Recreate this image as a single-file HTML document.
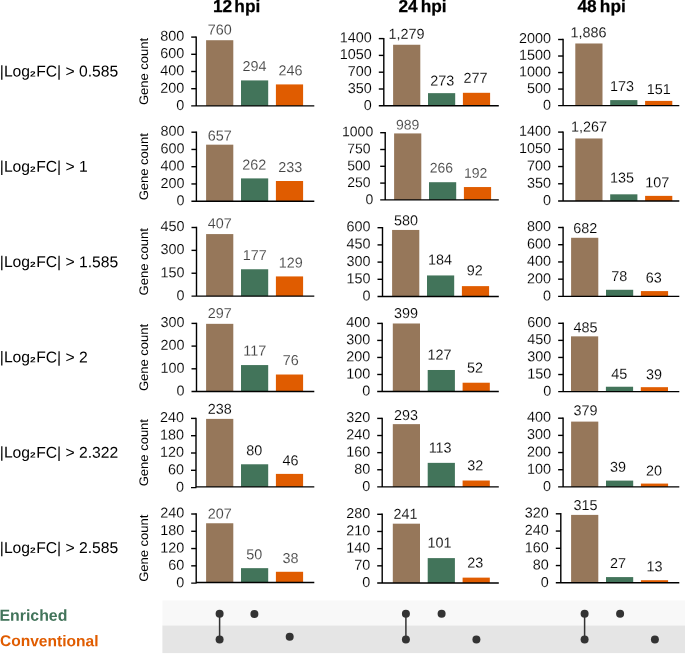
<!DOCTYPE html>
<html><head><meta charset="utf-8"><title>Gene counts</title>
<style>html,body{margin:0;padding:0;background:#fff;}svg{display:block;will-change:transform;}text{font-family:"Liberation Sans", sans-serif;}.tk{font-size:14.4px;fill:#000;text-anchor:end;stroke:#fff;stroke-width:0.12px;}.dl{font-size:14.4px;text-anchor:middle;stroke:#fff;stroke-width:0.12px;}.gc{font-size:12.4px;fill:#000;text-anchor:middle;}.hd{font-size:17.3px;font-weight:bold;fill:#000;word-spacing:-2.6px;stroke:#000;stroke-width:0.25px;}.rl{font-size:15.7px;fill:#000;}.lg{font-size:15.7px;font-weight:bold;}</style></head><body>
<svg width="685" height="654" viewBox="0 0 685 654">
<rect x="0" y="0" width="685" height="654" fill="#ffffff"/>
<text class="hd" transform="translate(212.90,12.00) rotate(0.05)">12 hpi</text>
<text class="hd" transform="translate(398.40,12.00) rotate(0.05)" style="word-spacing:-1.7px">24 hpi</text>
<text class="hd" transform="translate(577.50,12.00) rotate(0.05)" style="word-spacing:-1.7px">48 hpi</text>
<rect x="162.4" y="600.5" width="522.6" height="25" fill="#F8F8F8"/>
<rect x="162.4" y="625.5" width="522.6" height="27.6" fill="#E5E5E5"/>
<g id="c00">
<rect x="206.10" y="40.22" width="27.20" height="65.68" fill="#96775A"/>
<text class="dl" transform="translate(219.70,34.50) rotate(0.05)" fill="#424242">760</text>
<rect x="241.00" y="80.41" width="27.20" height="25.49" fill="#42745A"/>
<text class="dl" transform="translate(254.60,70.90) rotate(0.05)" fill="#424242">294</text>
<rect x="275.90" y="84.42" width="27.20" height="21.48" fill="#E05C00"/>
<text class="dl" transform="translate(290.40,75.30) rotate(0.05)" fill="#424242">246</text>
<path d="M196.20 36.40V106.60M196.20 105.90H314.30M191.20 105.90H196.70" stroke="#000" stroke-width="1.4" fill="none"/>
<text class="tk" transform="translate(184.20,110.00) rotate(0.05)">0</text>
<path d="M191.20 88.70H196.20" stroke="#000" stroke-width="1.4" fill="none"/>
<text class="tk" transform="translate(184.20,92.67) rotate(0.05)">200</text>
<path d="M191.20 71.50H196.20" stroke="#000" stroke-width="1.4" fill="none"/>
<text class="tk" transform="translate(184.20,75.35) rotate(0.05)">400</text>
<path d="M191.20 54.30H196.20" stroke="#000" stroke-width="1.4" fill="none"/>
<text class="tk" transform="translate(184.20,58.02) rotate(0.05)">600</text>
<path d="M191.20 37.10H196.20" stroke="#000" stroke-width="1.4" fill="none"/>
<text class="tk" transform="translate(184.20,40.70) rotate(0.05)">800</text>
<text class="gc" transform="translate(148.0,71.50) rotate(-89.95)" textLength="67.2" lengthAdjust="spacingAndGlyphs">Gene count</text>
</g>
<g id="c01">
<rect x="393.10" y="44.75" width="27.20" height="61.05" fill="#96775A"/>
<text class="dl" transform="translate(406.50,38.70) rotate(0.05)" fill="#000000">1,279</text>
<rect x="428.00" y="93.15" width="27.20" height="12.65" fill="#42745A"/>
<text class="dl" transform="translate(442.30,85.60) rotate(0.05)" fill="#000000">273</text>
<rect x="462.90" y="92.80" width="27.20" height="13.00" fill="#E05C00"/>
<text class="dl" transform="translate(475.50,82.70) rotate(0.05)" fill="#000000">277</text>
<path d="M383.80 37.90V106.50M383.80 105.80H498.80M378.80 105.80H384.30" stroke="#000" stroke-width="1.4" fill="none"/>
<text class="tk" transform="translate(371.80,109.90) rotate(0.05)">0</text>
<path d="M378.80 89.00H383.80" stroke="#000" stroke-width="1.4" fill="none"/>
<text class="tk" transform="translate(371.80,92.97) rotate(0.05)">350</text>
<path d="M378.80 72.20H383.80" stroke="#000" stroke-width="1.4" fill="none"/>
<text class="tk" transform="translate(371.80,76.05) rotate(0.05)">700</text>
<path d="M378.80 55.40H383.80" stroke="#000" stroke-width="1.4" fill="none"/>
<text class="tk" transform="translate(371.80,59.13) rotate(0.05)">1050</text>
<path d="M378.80 38.60H383.80" stroke="#000" stroke-width="1.4" fill="none"/>
<text class="tk" transform="translate(371.80,42.20) rotate(0.05)">1400</text>
</g>
<g id="c02">
<rect x="575.30" y="43.48" width="27.20" height="62.12" fill="#96775A"/>
<text class="dl" transform="translate(588.50,37.20) rotate(0.05)" fill="#000000">1,886</text>
<rect x="610.20" y="100.09" width="27.20" height="5.51" fill="#42745A"/>
<text class="dl" transform="translate(622.10,90.90) rotate(0.05)" fill="#000000">173</text>
<rect x="645.10" y="100.90" width="27.20" height="4.70" fill="#E05C00"/>
<text class="dl" transform="translate(658.80,94.10) rotate(0.05)" fill="#000000">151</text>
<path d="M563.10 38.80V106.30M563.10 105.60H679.30M558.10 105.60H563.60" stroke="#000" stroke-width="1.4" fill="none"/>
<text class="tk" transform="translate(551.10,109.70) rotate(0.05)">0</text>
<path d="M558.10 89.07H563.10" stroke="#000" stroke-width="1.4" fill="none"/>
<text class="tk" transform="translate(551.10,93.05) rotate(0.05)">500</text>
<path d="M558.10 72.55H563.10" stroke="#000" stroke-width="1.4" fill="none"/>
<text class="tk" transform="translate(551.10,76.40) rotate(0.05)">1000</text>
<path d="M558.10 56.02H563.10" stroke="#000" stroke-width="1.4" fill="none"/>
<text class="tk" transform="translate(551.10,59.75) rotate(0.05)">1500</text>
<path d="M558.10 39.50H563.10" stroke="#000" stroke-width="1.4" fill="none"/>
<text class="tk" transform="translate(551.10,43.10) rotate(0.05)">2000</text>
</g>
<g id="c10">
<rect x="206.10" y="144.67" width="27.20" height="56.53" fill="#96775A"/>
<text class="dl" transform="translate(219.70,140.50) rotate(0.05)" fill="#424242">657</text>
<rect x="241.00" y="178.40" width="27.20" height="22.80" fill="#42745A"/>
<text class="dl" transform="translate(254.30,169.40) rotate(0.05)" fill="#424242">262</text>
<rect x="275.90" y="181.00" width="27.20" height="20.20" fill="#E05C00"/>
<text class="dl" transform="translate(290.30,172.00) rotate(0.05)" fill="#424242">233</text>
<path d="M196.40 131.50V201.90M196.40 201.20H314.30M191.40 201.20H196.90" stroke="#000" stroke-width="1.4" fill="none"/>
<text class="tk" transform="translate(184.40,205.30) rotate(0.05)">0</text>
<path d="M191.40 183.95H196.40" stroke="#000" stroke-width="1.4" fill="none"/>
<text class="tk" transform="translate(184.40,187.92) rotate(0.05)">200</text>
<path d="M191.40 166.70H196.40" stroke="#000" stroke-width="1.4" fill="none"/>
<text class="tk" transform="translate(184.40,170.55) rotate(0.05)">400</text>
<path d="M191.40 149.45H196.40" stroke="#000" stroke-width="1.4" fill="none"/>
<text class="tk" transform="translate(184.40,153.17) rotate(0.05)">600</text>
<path d="M191.40 132.20H196.40" stroke="#000" stroke-width="1.4" fill="none"/>
<text class="tk" transform="translate(184.40,135.80) rotate(0.05)">800</text>
<text class="gc" transform="translate(148.0,166.70) rotate(-89.95)" textLength="67.2" lengthAdjust="spacingAndGlyphs">Gene count</text>
</g>
<g id="c11">
<rect x="394.10" y="133.42" width="27.20" height="66.48" fill="#96775A"/>
<text class="dl" transform="translate(407.60,129.50) rotate(0.05)" fill="#424242" style="font-size:14.0px">989</text>
<rect x="429.00" y="182.21" width="27.20" height="17.69" fill="#42745A"/>
<text class="dl" transform="translate(441.30,172.60) rotate(0.05)" fill="#424242" style="font-size:14.0px">266</text>
<rect x="463.90" y="187.05" width="27.20" height="12.85" fill="#E05C00"/>
<text class="dl" transform="translate(475.70,177.70) rotate(0.05)" fill="#424242" style="font-size:14.0px">192</text>
<path d="M385.20 132.00V200.60M385.20 199.90H498.80M380.20 199.90H385.70" stroke="#000" stroke-width="1.4" fill="none"/>
<text class="tk" transform="translate(373.20,204.00) rotate(0.05)" style="font-size:14.0px">0</text>
<path d="M380.20 183.10H385.20" stroke="#000" stroke-width="1.4" fill="none"/>
<text class="tk" transform="translate(370.50,187.07) rotate(0.05)" style="font-size:14.0px">250</text>
<path d="M380.20 166.30H385.20" stroke="#000" stroke-width="1.4" fill="none"/>
<text class="tk" transform="translate(370.50,170.15) rotate(0.05)" style="font-size:14.0px">500</text>
<path d="M380.20 149.50H385.20" stroke="#000" stroke-width="1.4" fill="none"/>
<text class="tk" transform="translate(370.50,153.22) rotate(0.05)" style="font-size:14.0px">750</text>
<path d="M380.20 132.70H385.20" stroke="#000" stroke-width="1.4" fill="none"/>
<text class="tk" transform="translate(373.20,136.30) rotate(0.05)" style="font-size:14.0px">1000</text>
</g>
<g id="c12">
<rect x="575.30" y="138.47" width="27.20" height="62.53" fill="#96775A"/>
<text class="dl" transform="translate(589.00,131.40) rotate(0.05)" fill="#000000">1,267</text>
<rect x="610.20" y="194.33" width="27.20" height="6.67" fill="#42745A"/>
<text class="dl" transform="translate(622.10,182.50) rotate(0.05)" fill="#000000">135</text>
<rect x="645.10" y="195.87" width="27.20" height="5.13" fill="#E05C00"/>
<text class="dl" transform="translate(657.30,187.20) rotate(0.05)" fill="#000000">107</text>
<path d="M563.10 131.40V201.70M563.10 201.00H679.30M558.10 201.00H563.60" stroke="#000" stroke-width="1.4" fill="none"/>
<text class="tk" transform="translate(551.10,205.10) rotate(0.05)">0</text>
<path d="M558.10 183.78H563.10" stroke="#000" stroke-width="1.4" fill="none"/>
<text class="tk" transform="translate(551.10,187.75) rotate(0.05)">350</text>
<path d="M558.10 166.55H563.10" stroke="#000" stroke-width="1.4" fill="none"/>
<text class="tk" transform="translate(551.10,170.40) rotate(0.05)">700</text>
<path d="M558.10 149.32H563.10" stroke="#000" stroke-width="1.4" fill="none"/>
<text class="tk" transform="translate(551.10,153.05) rotate(0.05)">1050</text>
<path d="M558.10 132.10H563.10" stroke="#000" stroke-width="1.4" fill="none"/>
<text class="tk" transform="translate(551.10,135.70) rotate(0.05)">1400</text>
</g>
<g id="c20">
<rect x="206.10" y="234.08" width="27.20" height="62.02" fill="#96775A"/>
<text class="dl" transform="translate(219.70,228.30) rotate(0.05)" fill="#424242">407</text>
<rect x="241.00" y="269.26" width="27.20" height="26.84" fill="#42745A"/>
<text class="dl" transform="translate(254.70,260.00) rotate(0.05)" fill="#424242">177</text>
<rect x="275.90" y="276.42" width="27.20" height="19.68" fill="#E05C00"/>
<text class="dl" transform="translate(290.80,267.60) rotate(0.05)" fill="#424242">129</text>
<path d="M196.50 226.80V296.80M196.50 296.10H314.30M191.50 296.10H197.00" stroke="#000" stroke-width="1.4" fill="none"/>
<text class="tk" transform="translate(184.50,300.20) rotate(0.05)">0</text>
<path d="M191.50 273.23H196.50" stroke="#000" stroke-width="1.4" fill="none"/>
<text class="tk" transform="translate(184.50,277.17) rotate(0.05)">150</text>
<path d="M191.50 250.37H196.50" stroke="#000" stroke-width="1.4" fill="none"/>
<text class="tk" transform="translate(184.50,254.13) rotate(0.05)">300</text>
<path d="M191.50 227.50H196.50" stroke="#000" stroke-width="1.4" fill="none"/>
<text class="tk" transform="translate(184.50,231.10) rotate(0.05)">450</text>
<text class="gc" transform="translate(148.0,261.80) rotate(-89.95)" textLength="67.2" lengthAdjust="spacingAndGlyphs">Gene count</text>
</g>
<g id="c21">
<rect x="392.10" y="229.95" width="27.20" height="66.55" fill="#96775A"/>
<text class="dl" transform="translate(406.10,225.30) rotate(0.05)" fill="#000000">580</text>
<rect x="427.00" y="275.45" width="27.20" height="21.05" fill="#42745A"/>
<text class="dl" transform="translate(440.10,264.40) rotate(0.05)" fill="#000000">184</text>
<rect x="461.90" y="286.13" width="27.20" height="10.37" fill="#E05C00"/>
<text class="dl" transform="translate(474.70,275.20) rotate(0.05)" fill="#000000">92</text>
<path d="M382.50 227.00V297.20M382.50 296.50H498.80M377.50 296.50H383.00" stroke="#000" stroke-width="1.4" fill="none"/>
<text class="tk" transform="translate(370.50,300.60) rotate(0.05)">0</text>
<path d="M377.50 279.30H382.50" stroke="#000" stroke-width="1.4" fill="none"/>
<text class="tk" transform="translate(370.50,283.28) rotate(0.05)">150</text>
<path d="M377.50 262.10H382.50" stroke="#000" stroke-width="1.4" fill="none"/>
<text class="tk" transform="translate(370.50,265.95) rotate(0.05)">300</text>
<path d="M377.50 244.90H382.50" stroke="#000" stroke-width="1.4" fill="none"/>
<text class="tk" transform="translate(370.50,248.62) rotate(0.05)">450</text>
<path d="M377.50 227.70H382.50" stroke="#000" stroke-width="1.4" fill="none"/>
<text class="tk" transform="translate(370.50,231.30) rotate(0.05)">600</text>
</g>
<g id="c22">
<rect x="571.10" y="237.78" width="27.20" height="58.62" fill="#96775A"/>
<text class="dl" transform="translate(585.20,233.00) rotate(0.05)" fill="#000000">682</text>
<rect x="606.00" y="289.79" width="27.20" height="6.61" fill="#42745A"/>
<text class="dl" transform="translate(619.30,280.90) rotate(0.05)" fill="#000000">78</text>
<rect x="640.90" y="291.09" width="27.20" height="5.31" fill="#E05C00"/>
<text class="dl" transform="translate(653.70,282.40) rotate(0.05)" fill="#000000">63</text>
<path d="M563.10 226.80V297.10M563.10 296.40H679.30M558.10 296.40H563.60" stroke="#000" stroke-width="1.4" fill="none"/>
<text class="tk" transform="translate(551.10,300.50) rotate(0.05)">0</text>
<path d="M558.10 279.17H563.10" stroke="#000" stroke-width="1.4" fill="none"/>
<text class="tk" transform="translate(551.10,283.15) rotate(0.05)">200</text>
<path d="M558.10 261.95H563.10" stroke="#000" stroke-width="1.4" fill="none"/>
<text class="tk" transform="translate(551.10,265.80) rotate(0.05)">400</text>
<path d="M558.10 244.72H563.10" stroke="#000" stroke-width="1.4" fill="none"/>
<text class="tk" transform="translate(551.10,248.45) rotate(0.05)">600</text>
<path d="M558.10 227.50H563.10" stroke="#000" stroke-width="1.4" fill="none"/>
<text class="tk" transform="translate(551.10,231.10) rotate(0.05)">800</text>
</g>
<g id="c30">
<rect x="206.10" y="323.84" width="27.20" height="67.66" fill="#96775A"/>
<text class="dl" transform="translate(219.70,318.00) rotate(0.05)" fill="#424242">297</text>
<rect x="241.00" y="365.07" width="27.20" height="26.43" fill="#42745A"/>
<text class="dl" transform="translate(254.70,355.60) rotate(0.05)" fill="#424242">117</text>
<rect x="275.90" y="374.52" width="27.20" height="16.98" fill="#E05C00"/>
<text class="dl" transform="translate(290.80,364.90) rotate(0.05)" fill="#424242">76</text>
<path d="M196.50 322.70V392.20M196.50 391.50H314.30M191.50 391.50H197.00" stroke="#000" stroke-width="1.4" fill="none"/>
<text class="tk" transform="translate(184.50,395.60) rotate(0.05)">0</text>
<path d="M191.50 368.80H196.50" stroke="#000" stroke-width="1.4" fill="none"/>
<text class="tk" transform="translate(184.50,372.73) rotate(0.05)">100</text>
<path d="M191.50 346.10H196.50" stroke="#000" stroke-width="1.4" fill="none"/>
<text class="tk" transform="translate(184.50,349.87) rotate(0.05)">200</text>
<path d="M191.50 323.40H196.50" stroke="#000" stroke-width="1.4" fill="none"/>
<text class="tk" transform="translate(184.50,327.00) rotate(0.05)">300</text>
<text class="gc" transform="translate(148.0,357.45) rotate(-89.95)" textLength="67.2" lengthAdjust="spacingAndGlyphs">Gene count</text>
</g>
<g id="c31">
<rect x="392.80" y="323.49" width="27.20" height="68.01" fill="#96775A"/>
<text class="dl" transform="translate(406.10,318.00) rotate(0.05)" fill="#000000">399</text>
<rect x="427.70" y="369.99" width="27.20" height="21.51" fill="#42745A"/>
<text class="dl" transform="translate(439.60,359.40) rotate(0.05)" fill="#000000">127</text>
<rect x="462.60" y="382.72" width="27.20" height="8.78" fill="#E05C00"/>
<text class="dl" transform="translate(475.00,372.50) rotate(0.05)" fill="#000000">52</text>
<path d="M382.20 322.70V392.20M382.20 391.50H498.80M377.20 391.50H382.70" stroke="#000" stroke-width="1.4" fill="none"/>
<text class="tk" transform="translate(370.20,395.60) rotate(0.05)">0</text>
<path d="M377.20 374.48H382.20" stroke="#000" stroke-width="1.4" fill="none"/>
<text class="tk" transform="translate(370.20,378.45) rotate(0.05)">100</text>
<path d="M377.20 357.45H382.20" stroke="#000" stroke-width="1.4" fill="none"/>
<text class="tk" transform="translate(370.20,361.30) rotate(0.05)">200</text>
<path d="M377.20 340.42H382.20" stroke="#000" stroke-width="1.4" fill="none"/>
<text class="tk" transform="translate(370.20,344.15) rotate(0.05)">300</text>
<path d="M377.20 323.40H382.20" stroke="#000" stroke-width="1.4" fill="none"/>
<text class="tk" transform="translate(370.20,327.00) rotate(0.05)">400</text>
</g>
<g id="c32">
<rect x="571.00" y="336.35" width="27.20" height="55.25" fill="#96775A"/>
<text class="dl" transform="translate(585.40,332.20) rotate(0.05)" fill="#000000">485</text>
<rect x="605.90" y="386.74" width="27.20" height="4.86" fill="#42745A"/>
<text class="dl" transform="translate(619.30,378.70) rotate(0.05)" fill="#000000">45</text>
<rect x="640.80" y="387.18" width="27.20" height="4.42" fill="#E05C00"/>
<text class="dl" transform="translate(653.90,379.30) rotate(0.05)" fill="#000000">39</text>
<path d="M563.20 322.60V392.30M563.20 391.60H679.30M558.20 391.60H563.70" stroke="#000" stroke-width="1.4" fill="none"/>
<text class="tk" transform="translate(551.20,395.70) rotate(0.05)">0</text>
<path d="M558.20 374.53H563.20" stroke="#000" stroke-width="1.4" fill="none"/>
<text class="tk" transform="translate(551.20,378.50) rotate(0.05)">150</text>
<path d="M558.20 357.45H563.20" stroke="#000" stroke-width="1.4" fill="none"/>
<text class="tk" transform="translate(551.20,361.30) rotate(0.05)">300</text>
<path d="M558.20 340.38H563.20" stroke="#000" stroke-width="1.4" fill="none"/>
<text class="tk" transform="translate(551.20,344.10) rotate(0.05)">450</text>
<path d="M558.20 323.30H563.20" stroke="#000" stroke-width="1.4" fill="none"/>
<text class="tk" transform="translate(551.20,326.90) rotate(0.05)">600</text>
</g>
<g id="c40">
<rect x="206.10" y="418.89" width="27.20" height="68.01" fill="#96775A"/>
<text class="dl" transform="translate(219.70,413.70) rotate(0.05)" fill="#000000">238</text>
<rect x="241.00" y="464.28" width="27.20" height="22.62" fill="#42745A"/>
<text class="dl" transform="translate(254.20,455.30) rotate(0.05)" fill="#000000">80</text>
<rect x="275.90" y="473.89" width="27.20" height="13.01" fill="#E05C00"/>
<text class="dl" transform="translate(290.40,465.20) rotate(0.05)" fill="#000000">46</text>
<path d="M196.00 417.70V487.60M196.00 486.90H314.30M191.00 487.60H196.50" stroke="#000" stroke-width="1.4" fill="none"/>
<text class="tk" transform="translate(184.00,491.70) rotate(0.05)">0</text>
<path d="M191.00 470.30H196.00" stroke="#000" stroke-width="1.4" fill="none"/>
<text class="tk" transform="translate(184.00,474.27) rotate(0.05)">60</text>
<path d="M191.00 453.00H196.00" stroke="#000" stroke-width="1.4" fill="none"/>
<text class="tk" transform="translate(184.00,456.85) rotate(0.05)">120</text>
<path d="M191.00 435.70H196.00" stroke="#000" stroke-width="1.4" fill="none"/>
<text class="tk" transform="translate(184.00,439.42) rotate(0.05)">180</text>
<path d="M191.00 418.40H196.00" stroke="#000" stroke-width="1.4" fill="none"/>
<text class="tk" transform="translate(184.00,422.00) rotate(0.05)">240</text>
<text class="gc" transform="translate(148.0,452.65) rotate(-89.95)" textLength="67.2" lengthAdjust="spacingAndGlyphs">Gene count</text>
</g>
<g id="c41">
<rect x="392.80" y="424.14" width="27.20" height="62.76" fill="#96775A"/>
<text class="dl" transform="translate(406.10,420.00) rotate(0.05)" fill="#000000">293</text>
<rect x="427.70" y="462.86" width="27.20" height="24.04" fill="#42745A"/>
<text class="dl" transform="translate(440.10,452.50) rotate(0.05)" fill="#000000">113</text>
<rect x="462.60" y="480.52" width="27.20" height="6.38" fill="#E05C00"/>
<text class="dl" transform="translate(475.20,470.30) rotate(0.05)" fill="#000000">32</text>
<path d="M382.20 417.70V487.60M382.20 486.90H498.80M377.20 486.90H382.70" stroke="#000" stroke-width="1.4" fill="none"/>
<text class="tk" transform="translate(370.20,491.00) rotate(0.05)">0</text>
<path d="M377.20 469.77H382.20" stroke="#000" stroke-width="1.4" fill="none"/>
<text class="tk" transform="translate(370.20,473.75) rotate(0.05)">80</text>
<path d="M377.20 452.65H382.20" stroke="#000" stroke-width="1.4" fill="none"/>
<text class="tk" transform="translate(370.20,456.50) rotate(0.05)">160</text>
<path d="M377.20 435.52H382.20" stroke="#000" stroke-width="1.4" fill="none"/>
<text class="tk" transform="translate(370.20,439.25) rotate(0.05)">240</text>
<path d="M377.20 418.40H382.20" stroke="#000" stroke-width="1.4" fill="none"/>
<text class="tk" transform="translate(370.20,422.00) rotate(0.05)">320</text>
</g>
<g id="c42">
<rect x="571.10" y="421.60" width="27.20" height="65.30" fill="#96775A"/>
<text class="dl" transform="translate(585.40,415.30) rotate(0.05)" fill="#000000">379</text>
<rect x="606.00" y="480.60" width="27.20" height="6.30" fill="#42745A"/>
<text class="dl" transform="translate(618.10,471.80) rotate(0.05)" fill="#000000">39</text>
<rect x="640.90" y="483.58" width="27.20" height="3.32" fill="#E05C00"/>
<text class="dl" transform="translate(653.90,475.60) rotate(0.05)" fill="#000000">20</text>
<path d="M563.10 417.50V487.60M563.10 486.90H679.30M558.10 486.90H563.60" stroke="#000" stroke-width="1.4" fill="none"/>
<text class="tk" transform="translate(551.10,491.00) rotate(0.05)">0</text>
<path d="M558.10 469.72H563.10" stroke="#000" stroke-width="1.4" fill="none"/>
<text class="tk" transform="translate(551.10,473.70) rotate(0.05)">100</text>
<path d="M558.10 452.55H563.10" stroke="#000" stroke-width="1.4" fill="none"/>
<text class="tk" transform="translate(551.10,456.40) rotate(0.05)">200</text>
<path d="M558.10 435.38H563.10" stroke="#000" stroke-width="1.4" fill="none"/>
<text class="tk" transform="translate(551.10,439.10) rotate(0.05)">300</text>
<path d="M558.10 418.20H563.10" stroke="#000" stroke-width="1.4" fill="none"/>
<text class="tk" transform="translate(551.10,421.80) rotate(0.05)">400</text>
</g>
<g id="c50">
<rect x="206.10" y="523.26" width="27.20" height="59.24" fill="#96775A"/>
<text class="dl" transform="translate(219.70,518.40) rotate(0.05)" fill="#424242">207</text>
<rect x="241.00" y="568.16" width="27.20" height="14.34" fill="#42745A"/>
<text class="dl" transform="translate(254.20,559.20) rotate(0.05)" fill="#424242">50</text>
<rect x="275.90" y="571.78" width="27.20" height="10.72" fill="#E05C00"/>
<text class="dl" transform="translate(290.40,563.00) rotate(0.05)" fill="#424242">38</text>
<path d="M196.20 513.30V583.20M196.20 582.50H314.30M191.20 583.10H196.70" stroke="#000" stroke-width="1.4" fill="none"/>
<text class="tk" transform="translate(184.20,587.20) rotate(0.05)">0</text>
<path d="M191.20 565.83H196.20" stroke="#000" stroke-width="1.4" fill="none"/>
<text class="tk" transform="translate(184.20,569.80) rotate(0.05)">60</text>
<path d="M191.20 548.55H196.20" stroke="#000" stroke-width="1.4" fill="none"/>
<text class="tk" transform="translate(184.20,552.40) rotate(0.05)">120</text>
<path d="M191.20 531.27H196.20" stroke="#000" stroke-width="1.4" fill="none"/>
<text class="tk" transform="translate(184.20,535.00) rotate(0.05)">180</text>
<path d="M191.20 514.00H196.20" stroke="#000" stroke-width="1.4" fill="none"/>
<text class="tk" transform="translate(184.20,517.60) rotate(0.05)">240</text>
<text class="gc" transform="translate(148.0,548.25) rotate(-89.95)" textLength="67.2" lengthAdjust="spacingAndGlyphs">Gene count</text>
</g>
<g id="c51">
<rect x="392.80" y="523.68" width="27.20" height="59.32" fill="#96775A"/>
<text class="dl" transform="translate(405.40,518.80) rotate(0.05)" fill="#000000">241</text>
<rect x="427.70" y="558.11" width="27.20" height="24.89" fill="#42745A"/>
<text class="dl" transform="translate(439.60,547.50) rotate(0.05)" fill="#000000">101</text>
<rect x="462.60" y="577.63" width="27.20" height="5.37" fill="#E05C00"/>
<text class="dl" transform="translate(475.20,567.40) rotate(0.05)" fill="#000000">23</text>
<path d="M382.20 513.60V583.70M382.20 583.00H498.80M377.20 583.00H382.70" stroke="#000" stroke-width="1.4" fill="none"/>
<text class="tk" transform="translate(370.20,587.10) rotate(0.05)">0</text>
<path d="M377.20 565.83H382.20" stroke="#000" stroke-width="1.4" fill="none"/>
<text class="tk" transform="translate(370.20,569.80) rotate(0.05)">70</text>
<path d="M377.20 548.65H382.20" stroke="#000" stroke-width="1.4" fill="none"/>
<text class="tk" transform="translate(370.20,552.50) rotate(0.05)">140</text>
<path d="M377.20 531.47H382.20" stroke="#000" stroke-width="1.4" fill="none"/>
<text class="tk" transform="translate(370.20,535.20) rotate(0.05)">210</text>
<path d="M377.20 514.30H382.20" stroke="#000" stroke-width="1.4" fill="none"/>
<text class="tk" transform="translate(370.20,517.90) rotate(0.05)">280</text>
</g>
<g id="c52">
<rect x="571.10" y="514.89" width="27.20" height="67.91" fill="#96775A"/>
<text class="dl" transform="translate(585.40,509.90) rotate(0.05)" fill="#000000">315</text>
<rect x="606.00" y="577.09" width="27.20" height="5.71" fill="#42745A"/>
<text class="dl" transform="translate(617.90,568.10) rotate(0.05)" fill="#000000">27</text>
<rect x="640.90" y="580.20" width="27.20" height="2.60" fill="#E05C00"/>
<text class="dl" transform="translate(654.50,571.20) rotate(0.05)" fill="#000000">13</text>
<path d="M560.80 513.10V583.50M560.80 582.80H679.30M555.80 582.80H561.30" stroke="#000" stroke-width="1.4" fill="none"/>
<text class="tk" transform="translate(548.80,586.90) rotate(0.05)">0</text>
<path d="M555.80 565.55H560.80" stroke="#000" stroke-width="1.4" fill="none"/>
<text class="tk" transform="translate(548.80,569.52) rotate(0.05)">80</text>
<path d="M555.80 548.30H560.80" stroke="#000" stroke-width="1.4" fill="none"/>
<text class="tk" transform="translate(548.80,552.15) rotate(0.05)">160</text>
<path d="M555.80 531.05H560.80" stroke="#000" stroke-width="1.4" fill="none"/>
<text class="tk" transform="translate(548.80,534.77) rotate(0.05)">240</text>
<path d="M555.80 513.80H560.80" stroke="#000" stroke-width="1.4" fill="none"/>
<text class="tk" transform="translate(548.80,517.40) rotate(0.05)">320</text>
</g>
<text class="rl" transform="translate(-0.20,76.50) rotate(0.05)">|Log<tspan fill="none">&#8322;</tspan>FC| &gt; 0.585</text>
<text transform="translate(30.0,76.40) scale(1.32,1) rotate(0.05)" style="font-size:7.7px;font-weight:bold;fill:#000">2</text>
<text class="rl" transform="translate(-0.20,171.78) rotate(0.05)">|Log<tspan fill="none">&#8322;</tspan>FC| &gt; 1</text>
<text transform="translate(30.0,171.68) scale(1.32,1) rotate(0.05)" style="font-size:7.7px;font-weight:bold;fill:#000">2</text>
<text class="rl" transform="translate(-0.20,267.06) rotate(0.05)">|Log<tspan fill="none">&#8322;</tspan>FC| &gt; 1.585</text>
<text transform="translate(30.0,266.96) scale(1.32,1) rotate(0.05)" style="font-size:7.7px;font-weight:bold;fill:#000">2</text>
<text class="rl" transform="translate(-0.20,362.34) rotate(0.05)">|Log<tspan fill="none">&#8322;</tspan>FC| &gt; 2</text>
<text transform="translate(30.0,362.24) scale(1.32,1) rotate(0.05)" style="font-size:7.7px;font-weight:bold;fill:#000">2</text>
<text class="rl" transform="translate(-0.20,457.62) rotate(0.05)">|Log<tspan fill="none">&#8322;</tspan>FC| &gt; 2.322</text>
<text transform="translate(30.0,457.52) scale(1.32,1) rotate(0.05)" style="font-size:7.7px;font-weight:bold;fill:#000">2</text>
<text class="rl" transform="translate(-0.20,552.90) rotate(0.05)">|Log<tspan fill="none">&#8322;</tspan>FC| &gt; 2.585</text>
<text transform="translate(30.0,552.80) scale(1.32,1) rotate(0.05)" style="font-size:7.7px;font-weight:bold;fill:#000">2</text>
<text class="lg" transform="translate(-0.45,620.80) rotate(0.05)" fill="#42745A" style="font-size:15.85px">Enriched</text>
<text class="lg" transform="translate(0.00,646.10) rotate(0.05)" fill="#E05C00" style="font-size:15.55px">Conventional</text>
<path d="M219.6 613.8V639.5" stroke="#333333" stroke-width="1.5"/>
<circle cx="219.6" cy="613.8" r="4.0" fill="#333333"/>
<circle cx="219.6" cy="639.5" r="4.0" fill="#333333"/>
<circle cx="254.4" cy="614.1" r="4.0" fill="#333333"/>
<circle cx="289.7" cy="636.7" r="4.0" fill="#333333"/>
<path d="M405.9 613.8V639.5" stroke="#333333" stroke-width="1.5"/>
<circle cx="405.9" cy="613.8" r="4.0" fill="#333333"/>
<circle cx="405.9" cy="639.5" r="4.0" fill="#333333"/>
<circle cx="441.6" cy="613.8" r="4.0" fill="#333333"/>
<circle cx="476.4" cy="639.5" r="4.0" fill="#333333"/>
<path d="M584.6 613.8V639.5" stroke="#333333" stroke-width="1.5"/>
<circle cx="584.6" cy="613.8" r="4.0" fill="#333333"/>
<circle cx="584.6" cy="639.5" r="4.0" fill="#333333"/>
<circle cx="620.1" cy="613.8" r="4.0" fill="#333333"/>
<circle cx="654.9" cy="639.5" r="4.0" fill="#333333"/>
</svg></body></html>
